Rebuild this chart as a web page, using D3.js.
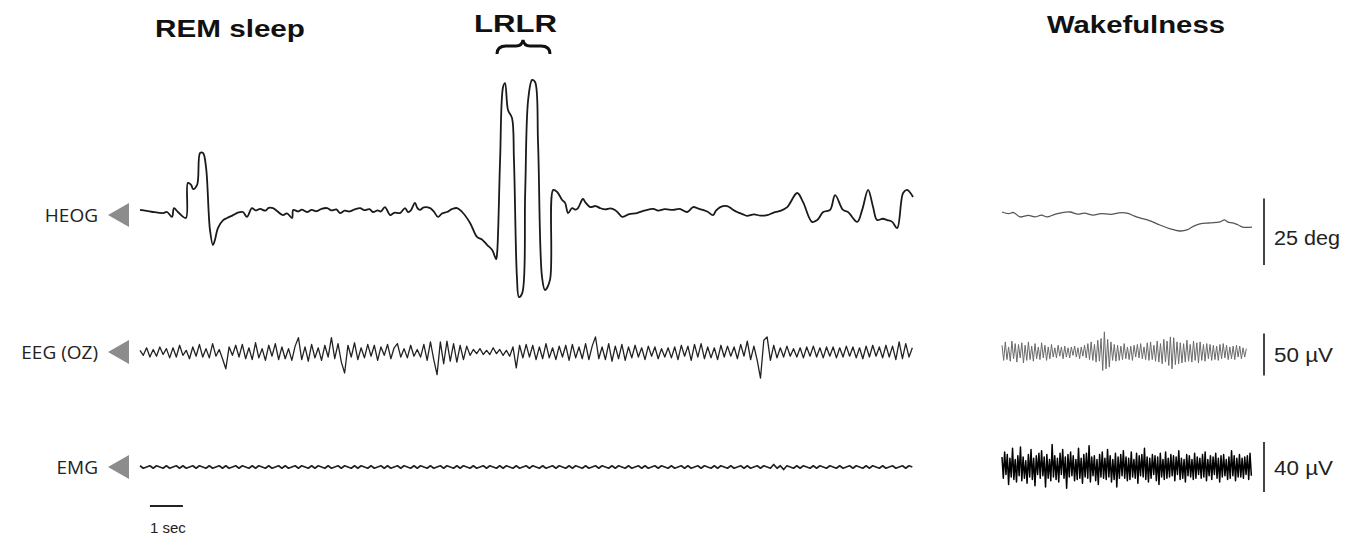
<!DOCTYPE html>
<html><head><meta charset="utf-8">
<script src="https://cdn.jsdelivr.net/npm/d3@7"></script>
<style>body{margin:0;background:#fff}svg{display:block}</style>
</head><body>
<script>
// ---------- DATA ----------
// REM HEOG: time (s) and degrees
const heogRemT = [0,0.35,0.70,0.82,0.97,1.03,1.15,1.39,1.45,1.55,1.61,1.73,1.82,1.91,2.00,2.12,2.21,2.27,2.36,2.52,2.64,2.82,2.95,3.12,3.24,3.39,3.5,3.64,3.8,3.9,4.03,4.15,4.33,4.45,4.61,4.64,4.8,4.9,5.06,5.2,5.35,5.5,5.67,5.8,5.95,6.06,6.2,6.35,6.5,6.67,6.8,6.95,7.06,7.2,7.3,7.42,7.58,7.7,7.88,8.03,8.12,8.2,8.33,8.4,8.48,8.6,8.79,8.9,9.03,9.15,9.30,9.45,9.61,9.76,10.00,10.21,10.35,10.52,10.67,10.79,10.82,10.91,11.00,11.06,11.15,11.27,11.33,11.42,11.48,11.58,11.67,11.76,11.88,11.97,12.06,12.18,12.27,12.42,12.52,12.64,12.79,12.88,12.97,13.09,13.2,13.27,13.42,13.5,13.64,13.8,13.94,14.1,14.25,14.39,14.5,14.61,14.8,15.06,15.3,15.55,15.7,15.9,16.15,16.35,16.58,16.76,16.9,17.06,17.2,17.36,17.45,17.58,17.79,17.95,18.09,18.25,18.39,18.6,18.8,19.0,19.2,19.39,19.61,19.91,20.09,20.36,20.52,20.70,20.91,21.06,21.30,21.45,21.73,21.88,22.06,22.21,22.33,22.5,22.64,22.79,22.94,23.12,23.24,23.42];
const heogRemV = [0.8,0.1,-0.4,0,-1.9,1.5,0,-2.3,11.2,10.4,8.8,10.4,22.7,22.7,17.3,-6.9,-12.7,-10.8,-6.2,-3.1,-2.3,-1.2,-0.3,0,-1.9,1.5,0.6,1.2,0.5,1.6,1.5,0.4,-1.2,-0.5,-2.3,0.8,0.2,0.9,0,0.8,0.3,1.2,1.5,0.6,1.0,-0.4,0.5,0.2,1.0,1.5,0.7,1.1,0,0.6,0.2,1.9,-1.2,-0.3,-0.4,1.5,0,0.5,3.5,1.6,0.8,1.8,1.5,0.2,-1.9,-0.6,0,1.1,1.5,0,-4.2,-9.6,-10.5,-12.7,-14.6,-18.1,-15.8,20.0,48.1,49.6,39.2,36.2,20.0,-25.0,-32.7,-31.2,7.3,43.1,50.8,50.0,26.5,-25.0,-30.0,-26.2,8.5,7.7,4.6,3.5,-0.4,1.5,0.9,1.5,5.0,3.6,1.9,2.3,1.5,1.0,1.4,0.8,-0.5,-1.9,-0.9,-0.4,0.6,1.2,0.5,1.1,0.8,1.2,0,1.9,1.4,0.8,0.1,-1.2,0.5,1.9,2.3,1.0,0,-0.8,-1.5,-0.9,-1.4,-1.2,-0.2,0.4,1.9,7.3,3.8,-3.8,-3.1,0,0.8,6.5,0.8,0,-3.8,0.8,8.5,1.9,-3.1,-2.6,-3.1,-3.8,-6.2,7.3,8.5,5.8];
// Wake HEOG
const heogWakeT = [0,0.2,0.35,0.55,0.8,1.0,1.2,1.36,1.6,1.8,2.06,2.3,2.5,2.76,3.0,3.3,3.55,3.79,4.0,4.18,4.45,4.79,5.1,5.39,5.61,5.8,6.00,6.3,6.61,6.75,6.85,7.00,7.15,7.30,7.58];
const heogWakeV = [0,-0.6,-0.2,-1.9,-1.3,-1.9,-1.2,-1.9,-0.9,-0.3,0,-0.8,-0.4,-1.2,-0.6,-0.9,-0.3,-0.4,-1.5,-2.3,-3.2,-5.0,-6.5,-7.3,-6.9,-5.5,-4.6,-4.2,-3.8,-3.0,-3.9,-4.2,-4.9,-5.8,-5.8];
// EEG (OZ), µV, REM at 0.1 s steps
const eegRem = [2,-4,5,-6,3,-5,6,-3,4,-7, 5,-6,8,-4,2,-8,6,-5,9,-6, 4,-7,10,-5,3,-8,-20,6,-4,8, -6,9,-8,5,-9,11,-7,4,-10,8, -5,10,-9,6,-8,4,-10,7,17,-9, 6,-11,9,-7,5,-10,8,-6,17,-8, 10,-12,-25,8,-6,11,-9,5,-7,9, -5,8,-10,6,-4,9,-8,5,10,-6, 4,-7,8,-5,3,-6,9,-10,12,-9, -27,12,-14,13,-11,10,-12,8,-9,7, -4,3,-2,4,-3,2,-3,5,-2,3, -4,2,-5,6,-19,8,-7,9,-6,8, -9,6,-8,10,-7,5,-9,7,-6,8, -10,9,-7,6,-8,10,-9,7,18,-8, 6,-9,10,-11,7,-8,9,-10,6,-7, 8,-6,5,-9,7,-5,6,-8,4,-6, 5,-7,6,-9,8,-5,7,-10,9,-6, 10,-8,6,-7,5,-9,8,-6,7,-5, 6,-8,9,-5,13,-9,7,-10,-31,14, 18,-10,8,-7,5,-6,7,-5,4,-6, 5,-7,6,-5,7,-6,5,-7,6,-5, 6,-7,5,-6,7,-5,6,-7,5,-8, 7,-6,8,-5,6,-7,8,-6,7,-9, 12,-8,10,-6,5];
// EEG wake, µV at 0.05 s steps
const eegWake = [8,-10,12,-9,6,-11,13,-8,10,-12,9,-7,11,-13,8,-10,12,-9,7,-11, 10,-8,6,-9,11,-7,8,-10,6,-8,9,-6,5,-7,8,-5,6,-8,7,-6, 5,-7,6,-4,7,-6,5,-8,6,-5,8,-7,10,-9,12,-10,9,-12,14,-11, 16,-22,24,-20,15,-18,12,-10,9,-11,8,-10,7,-9,10,-8,6,-9,7,-10, 8,-6,9,-7,10,-8,6,-9,11,-10,12,-9,8,-11,13,-12,10,-14,15,-12, 13,-16,18,-20,17,-15,12,-14,11,-13,10,-12,14,-11,9,-12,13,-10,11,-13, 12,-10,9,-11,10,-8,9,-10,8,-9,7,-10,9,-8,10,-7,8,-9,6,-8, 7,-9,8,-6,7,-8,5,-6,4];
// EMG, µV, REM at 0.1 s steps
const emgRem = [1,-1,0,1,-1,1,0,-1,1,-1, 0,1,-1,1,-1,0,1,-1,1,0, -1,1,-1,0,1,-1,1,-1,0,1, -1,1,0,-1,1,-1,1,0,-1,1, -1,0,1,-1,1,-1,0,1,-1,1, 0,-1,1,-1,1,0,-1,1,-1,0, 1,-1,1,0,-1,1,-1,1,0,-1, 1,-1,0,1,-1,1,-1,0,1,-1, 1,0,-1,1,-1,1,0,-1,1,-1, 0,1,-1,1,0,-1,1,-1,1,0, -1,1,-1,0,1,-1,1,0,-1,1, -1,1,0,-1,1,-1,0,1,-1,1, 0,-1,1,-1,0,1,-1,1,0,-1, 1,-1,1,0,-1,1,-1,0,1,-1, 1,0,-1,1,-1,1,0,-1,1,-1, 0,1,-1,1,-1,0,1,-1,1,0, -1,1,-1,0,1,-1,1,-1,0,1, -1,1,0,-1,1,-1,1,0,-1,1, -1,0,1,-1,1,-1,0,1,-1,1, 0,-1,2,-1,1,-2,1,0,-1,1, -1,1,0,-1,1,-1,1,0,-1,1, 0,-1,1,-1,0,1,-1,1,0,-1, 1,-1,1,0,-1,1,-1,0,1,-1, 0,1,-1,1,0];
// EMG wake, µV at 0.04 s steps
const emgWake = [8,-9,12,-6,10,-14,7,-8,15,-10, 6,-12,9,-7,16,-11,8,-9,5,-13, 10,-8,14,-10,7,-15,9,-6,11,-9, 13,-7,8,-16,10,-9,6,-11,18,-8, 9,-10,7,-12,11,-6,14,-9,8,-17, 10,-8,12,-7,9,-11,6,-10,15,-9, 7,-13,10,-8,11,-9,17,-12,8,-7, 9,-11,6,-14,10,-8,12,-9,7,-10, 14,-8,9,-12,6,-10,11,-16,8,-9, 10,-7,13,-9,8,-11,7,-10,12,-8, 6,-9,11,-13,9,-7,10,-8,15,-10, 8,-12,7,-9,10,-6,9,-11,8,-14, 11,-8,6,-10,12,-9,7,-8,10,-7, 9,-11,8,-6,13,-10,7,-9,6,-12, 10,-7,9,-8,6,-10,11,-9,8,-6, 7,-9,10,-8,12,-11,6,-7,9,-10, 8,-6,11,-9,7,-12,9,-8,10,-7, 6,-10,8,-9,13,-7,9,-11,7,-8, 10,-8,7,-9,8,-6,9,-10,11,-7];
const channels = ["HEOG", "EEG (OZ)", "EMG"];
const panelTitles = ["REM sleep", "LRLR", "Wakefulness"];
const scaleLabels = ["25 deg", "50 µV", "40 µV"];
const timeBarLabel = "1 sec";

// ---------- DRAW ----------
const W = 1358, H = 543;
const svg = d3.select("body").append("svg").attr("width", W).attr("height", H);

const xRem = d3.scaleLinear().domain([0, 23.42]).range([140, 913]);
const xWake = d3.scaleLinear().domain([0, 7.58]).range([1002, 1252]);
const xWakeEeg = d3.scaleLinear().domain([0, 7.45]).range([1002, 1248]);
const yHeog = d3.scaleLinear().domain([0, 25]).range([212, 147]);
const yEeg = d3.scaleLinear().domain([-50, 50]).range([394, 310]);
const yEmg = d3.scaleLinear().domain([-40, 40]).range([517, 417]);

function trace(ts, vs, x, y, color, w, curve) {
  const pts = vs.map((v, i) => [x(ts[i]), y(v)]);
  svg.append("path").attr("d", d3.line().curve(curve || d3.curveLinear)(pts))
    .attr("fill", "none").attr("stroke", color).attr("stroke-width", w)
    .attr("stroke-linejoin", "round");
}
const steps = (arr, dt) => arr.map((_, i) => i * dt);

trace(heogRemT, heogRemV, xRem, yHeog, "#1a1a1a", 1.8, d3.curveCatmullRom.alpha(0.5));
trace(heogWakeT, heogWakeV, xWake, yHeog, "#555", 1.3, d3.curveCatmullRom.alpha(0.5));
trace(steps(eegRem, 0.1), eegRem, xRem, yEeg, "#222", 1.3);
trace(steps(eegWake, 0.05), eegWake, xWakeEeg, yEeg, "#6a6a6a", 1.0);
trace(steps(emgRem, 0.1), emgRem, xRem, yEmg, "#222", 1.7);
trace(steps(emgWake, 0.04), emgWake, xWake, yEmg, "#000", 1.5);

// channel labels and triangles
const chY = [215, 352, 467];
channels.forEach((c, i) => {
  svg.append("text").attr("x", 98).attr("y", chY[i]).attr("dy", "0.35em")
    .attr("text-anchor", "end").attr("font-family", "Open Sans").attr("font-size", 19)
    .attr("fill", "#222").text(c);
  svg.append("path").attr("d", `M108,${chY[i]} L129,${chY[i]-12} L129,${chY[i]+12} Z`).attr("fill", "#8c8c8c");
});

// titles
const tt = [[155, 37, 150], [474, 32, 83], [1047, 33, 178]];
panelTitles.forEach((t, i) => {
  svg.append("text").attr("x", tt[i][0]).attr("y", tt[i][1])
    .attr("font-family", "Liberation Sans, Arial").attr("font-weight", "bold").attr("font-size", 23)
    .attr("textLength", tt[i][2]).attr("lengthAdjust", "spacingAndGlyphs")
    .attr("fill", "#111").text(t);
});
// brace
svg.append("path").attr("d", "M497,54 Q497,46 506,46 L516,46 Q522,46 523,40 Q524,46 530,46 L541,46 Q550,46 550,54")
  .attr("fill", "none").attr("stroke", "#111").attr("stroke-width", 3);

// scale bars
const barX = 1264;
const bars = [[yHeog(5.2), yHeog(-20.4)], [yEeg(22), yEeg(-28)], [yEmg(20), yEmg(-20)]];
const labLen = [66, 59, 59];
const labY = [238, 355, 468];
bars.forEach((b, i) => {
  svg.append("line").attr("x1", barX).attr("x2", barX).attr("y1", b[0]).attr("y2", b[1])
    .attr("stroke", "#444").attr("stroke-width", 2);
  svg.append("text").attr("x", 1274).attr("y", labY[i]).attr("dy", "0.35em")
    .attr("font-family", "Liberation Sans, Arial").attr("font-size", 20).attr("fill", "#222")
    .attr("textLength", labLen[i]).attr("lengthAdjust", "spacingAndGlyphs")
    .text(scaleLabels[i]);
});
// time bar
svg.append("line").attr("x1", xRem(0.3)).attr("x2", xRem(1.3)).attr("y1", 506).attr("y2", 506)
  .attr("stroke", "#222").attr("stroke-width", 2);
svg.append("text").attr("x", 150).attr("y", 533).attr("font-family", "Liberation Sans, Arial")
  .attr("font-size", 15).attr("fill", "#222").text(timeBarLabel);
</script>
</body></html>
